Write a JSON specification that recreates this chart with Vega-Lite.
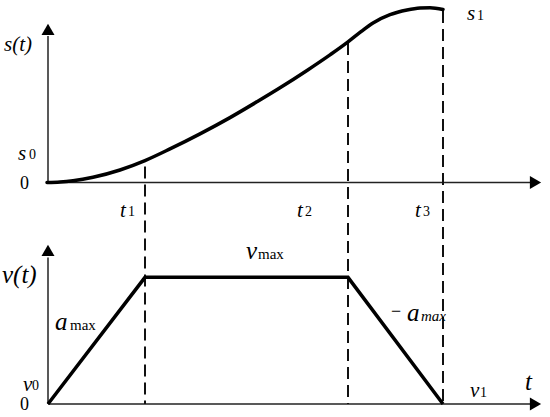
{
  "$schema": "https://vega.github.io/schema/vega-lite/v6.json",
  "width": 550,
  "height": 417,
  "padding": 0,
  "autosize": {"type": "fit", "contains": "padding"},
  "background": "white",
  "config": {"view": {"stroke": null}, "text": {"font": "Liberation Serif"}},
  "datasets": {
    "lines": [
      {"id": "ay1", "role": "axis", "i": 0, "x": 48, "y": 235},
      {"id": "ay1", "role": "axis", "i": 1, "x": 48, "y": 382},
      {"id": "ax1", "role": "axis", "i": 0, "x": 47, "y": 235},
      {"id": "ax1", "role": "axis", "i": 1, "x": 530, "y": 235},
      {"id": "ay2", "role": "axis", "i": 0, "x": 48, "y": 13},
      {"id": "ay2", "role": "axis", "i": 1, "x": 48, "y": 160},
      {"id": "ax2", "role": "axis", "i": 0, "x": 48, "y": 13},
      {"id": "ax2", "role": "axis", "i": 1, "x": 530, "y": 13},
      {"id": "g1", "role": "guide", "i": 0, "x": 145, "y": 251},
      {"id": "g1", "role": "guide", "i": 1, "x": 145, "y": 13},
      {"id": "g2", "role": "guide", "i": 0, "x": 348, "y": 375},
      {"id": "g2", "role": "guide", "i": 1, "x": 348, "y": 13},
      {"id": "g3", "role": "guide", "i": 0, "x": 443, "y": 407},
      {"id": "g3", "role": "guide", "i": 1, "x": 443, "y": 13},
      {"id": "v", "role": "vel", "i": 0, "x": 48, "y": 13},
      {"id": "v", "role": "vel", "i": 1, "x": 145, "y": 140},
      {"id": "v", "role": "vel", "i": 2, "x": 348, "y": 140},
      {"id": "v", "role": "vel", "i": 3, "x": 443, "y": 13},
      {"id": "s", "role": "pos", "i": 0, "x": 47, "y": 235},
      {"id": "s", "role": "pos", "i": 1, "x": 60, "y": 235.5},
      {"id": "s", "role": "pos", "i": 2, "x": 73, "y": 236.8},
      {"id": "s", "role": "pos", "i": 3, "x": 93, "y": 240.3},
      {"id": "s", "role": "pos", "i": 4, "x": 120, "y": 247.6},
      {"id": "s", "role": "pos", "i": 5, "x": 145, "y": 257},
      {"id": "s", "role": "pos", "i": 6, "x": 170, "y": 268.7},
      {"id": "s", "role": "pos", "i": 7, "x": 200, "y": 283.8},
      {"id": "s", "role": "pos", "i": 8, "x": 230, "y": 300.1},
      {"id": "s", "role": "pos", "i": 9, "x": 257, "y": 316},
      {"id": "s", "role": "pos", "i": 10, "x": 280, "y": 330},
      {"id": "s", "role": "pos", "i": 11, "x": 307, "y": 347.4},
      {"id": "s", "role": "pos", "i": 12, "x": 330, "y": 363},
      {"id": "s", "role": "pos", "i": 13, "x": 348, "y": 376},
      {"id": "s", "role": "pos", "i": 14, "x": 360, "y": 385.5},
      {"id": "s", "role": "pos", "i": 15, "x": 373, "y": 395},
      {"id": "s", "role": "pos", "i": 16, "x": 390, "y": 403.3},
      {"id": "s", "role": "pos", "i": 17, "x": 407, "y": 408},
      {"id": "s", "role": "pos", "i": 18, "x": 420, "y": 410},
      {"id": "s", "role": "pos", "i": 19, "x": 430, "y": 410.3},
      {"id": "s", "role": "pos", "i": 20, "x": 443, "y": 408.5}
    ],
    "heads": [
      {"dir": "up", "x": 48, "y": 388.5},
      {"dir": "right", "x": 535.5, "y": 235},
      {"dir": "up", "x": 48, "y": 167},
      {"dir": "right", "x": 535.5, "y": 13}
    ],
    "labels": [
      {"kind": "main", "text": "s(t)", "x": 4, "y": 367},
      {"kind": "main", "text": "s", "x": 18, "y": 258},
      {"kind": "main", "text": "s", "x": 467, "y": 398},
      {"kind": "main", "text": "t", "x": 120, "y": 200},
      {"kind": "main", "text": "t", "x": 297, "y": 200},
      {"kind": "main", "text": "t", "x": 415, "y": 200},
      {"kind": "main", "text": "v", "x": 23, "y": 26},
      {"kind": "main", "text": "v", "x": 470, "y": 20},
      {"kind": "big", "text": "v(t)", "x": 2, "y": 134},
      {"kind": "big", "text": "a", "x": 55, "y": 87},
      {"kind": "big", "text": "v", "x": 246, "y": 158},
      {"kind": "big", "text": "a", "x": 407, "y": 96},
      {"kind": "big", "text": "t", "x": 525, "y": 27},
      {"kind": "sub", "text": "0", "x": 29, "y": 259},
      {"kind": "sub", "text": "1", "x": 477, "y": 398},
      {"kind": "sub", "text": "1", "x": 128, "y": 201},
      {"kind": "sub", "text": "2", "x": 305, "y": 201},
      {"kind": "sub", "text": "3", "x": 423, "y": 201},
      {"kind": "sub", "text": "0", "x": 32, "y": 27},
      {"kind": "sub", "text": "1", "x": 480, "y": 20},
      {"kind": "maxu", "text": "max", "x": 70, "y": 87},
      {"kind": "maxu", "text": "max", "x": 258, "y": 158},
      {"kind": "maxi", "text": "max", "x": 421, "y": 96},
      {"kind": "num", "text": "0", "x": 20, "y": 229},
      {"kind": "num", "text": "0", "x": 20, "y": 7},
      {"kind": "num", "text": "−", "x": 391, "y": 100}
    ]
  },
  "encoding": {
    "x": {"field": "x", "type": "quantitative", "scale": {"domain": [0, 550], "nice": false, "zero": false}, "axis": null},
    "y": {"field": "y", "type": "quantitative", "scale": {"domain": [0, 417], "nice": false, "zero": false}, "axis": null}
  },
  "layer": [
    {
      "data": {"name": "lines"},
      "transform": [{"filter": "datum.role == 'axis'"}],
      "mark": {"type": "line", "color": "#222222", "strokeWidth": 1.5},
      "encoding": {"detail": {"field": "id"}, "order": {"field": "i"}}
    },
    {
      "data": {"name": "lines"},
      "transform": [{"filter": "datum.role == 'guide'"}],
      "mark": {"type": "line", "color": "#111111", "strokeWidth": 2, "strokeDash": [12, 6]},
      "encoding": {"detail": {"field": "id"}, "order": {"field": "i"}}
    },
    {
      "data": {"name": "lines"},
      "transform": [{"filter": "datum.role == 'vel'"}],
      "mark": {"type": "line", "color": "#000000", "strokeWidth": 3.5, "strokeJoin": "miter"},
      "encoding": {"detail": {"field": "id"}, "order": {"field": "i"}}
    },
    {
      "data": {"name": "lines"},
      "transform": [{"filter": "datum.role == 'pos'"}],
      "mark": {"type": "line", "color": "#000000", "strokeWidth": 3.5, "interpolate": "monotone", "strokeCap": "round"},
      "encoding": {"detail": {"field": "id"}, "order": {"field": "i"}}
    },
    {
      "data": {"name": "heads"},
      "mark": {"type": "point", "filled": true, "color": "#000000", "size": 169, "opacity": 1},
      "encoding": {
        "shape": {"field": "dir", "type": "nominal", "scale": {"domain": ["up", "right"], "range": ["triangle-up", "triangle-right"]}, "legend": null}
      }
    },
    {
      "data": {"name": "labels"},
      "transform": [{"filter": "datum.kind == 'main'"}],
      "mark": {"type": "text", "font": "Liberation Serif", "fontStyle": "italic", "fontSize": 21, "align": "left", "baseline": "alphabetic", "color": "#000000"},
      "encoding": {"text": {"field": "text"}}
    },
    {
      "data": {"name": "labels"},
      "transform": [{"filter": "datum.kind == 'big'"}],
      "mark": {"type": "text", "font": "Liberation Serif", "fontStyle": "italic", "fontSize": 25, "align": "left", "baseline": "alphabetic", "color": "#000000"},
      "encoding": {"text": {"field": "text"}}
    },
    {
      "data": {"name": "labels"},
      "transform": [{"filter": "datum.kind == 'sub'"}],
      "mark": {"type": "text", "font": "Liberation Serif", "fontSize": 14, "align": "left", "baseline": "alphabetic", "color": "#000000"},
      "encoding": {"text": {"field": "text"}}
    },
    {
      "data": {"name": "labels"},
      "transform": [{"filter": "datum.kind == 'maxu'"}],
      "mark": {"type": "text", "font": "Liberation Serif", "fontSize": 15, "align": "left", "baseline": "alphabetic", "color": "#000000"},
      "encoding": {"text": {"field": "text"}}
    },
    {
      "data": {"name": "labels"},
      "transform": [{"filter": "datum.kind == 'maxi'"}],
      "mark": {"type": "text", "font": "Liberation Serif", "fontStyle": "italic", "fontSize": 15, "align": "left", "baseline": "alphabetic", "color": "#000000"},
      "encoding": {"text": {"field": "text"}}
    },
    {
      "data": {"name": "labels"},
      "transform": [{"filter": "datum.kind == 'num'"}],
      "mark": {"type": "text", "font": "Liberation Serif", "fontSize": 18, "align": "left", "baseline": "alphabetic", "color": "#000000"},
      "encoding": {"text": {"field": "text"}}
    }
  ]
}
